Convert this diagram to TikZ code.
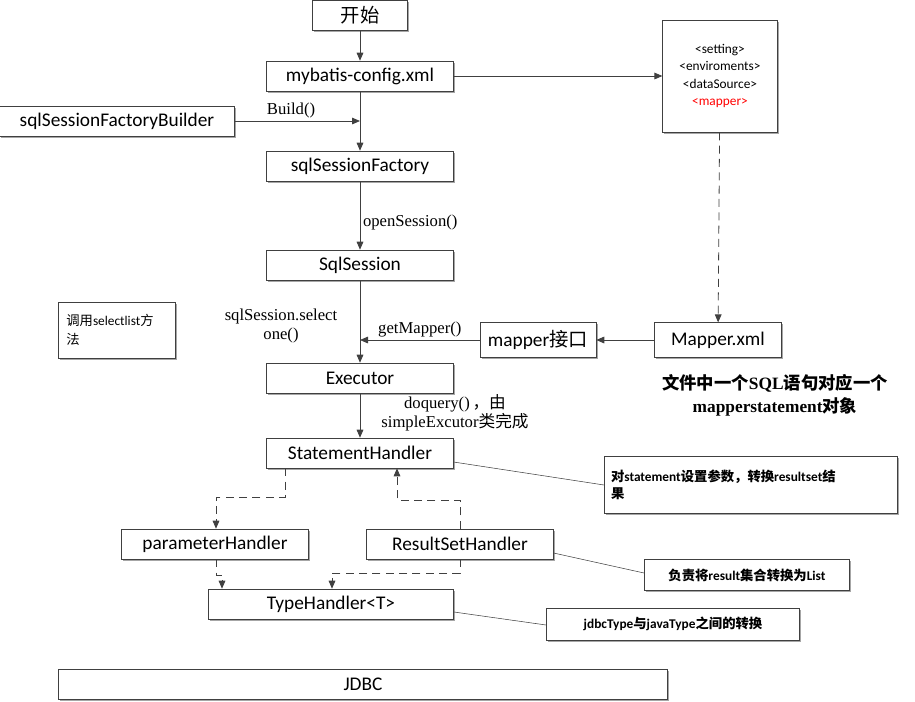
\documentclass[tikz,border=0pt]{standalone}
\usepackage{fontspec}
\setmainfont{Carlito}
\newfontfamily\serif{Liberation Serif}
\newfontfamily\cjk{Noto Sans CJK SC}
\usetikzlibrary{arrows.meta,shadows}
\begin{document}
\begin{tikzpicture}[x=0.75pt,y=-0.75pt,
  box/.style={draw=black!75,fill=white,minimum height=22.5pt,inner sep=2pt,font=\fontsize{14.5}{16}\selectfont,
    drop shadow={shadow xshift=1.2pt,shadow yshift=-1.2pt,fill=black!35,opacity=1}},
  note/.style={draw=black!75,fill=white,align=left,inner sep=4pt,font=\fontsize{10}{13}\selectfont\bfseries,
    drop shadow={shadow xshift=1.2pt,shadow yshift=-1.2pt,fill=black!35,opacity=1}},
  lbl/.style={font=\serif\fontsize{12.5}{14}\selectfont,align=center,inner sep=1pt},
  arr/.style={-{Triangle[length=6pt,width=5pt]},draw=black!75,semithick},
  dsh/.style={arr,dash pattern=on 6pt off 4pt},
  ln/.style={draw=black!75}]
\useasboundingbox (0,0) rectangle (915,701);
\node[box,minimum width=71.25pt] (start) at (360,15) {\cjk 开始};
\node[box,minimum width=140pt] (conf) at (360,76) {mybatis-config.xml};
\node[box,minimum width=176pt] (bld) at (117,121) {sqlSessionFactoryBuilder};
\node[box,minimum width=140pt] (fac) at (360,166) {sqlSessionFactory};
\node[box,minimum width=140pt] (ses) at (360,265) {SqlSession};
\node[box,minimum width=140pt] (exe) at (360,378) {Executor};
\node[box,minimum width=87pt,minimum height=26pt] (mif) at (538,340) {mapper{\cjk 接口}};
\node[box,minimum width=95pt,minimum height=26pt] (mxml) at (718,340) {Mapper.xml};
\node[box,minimum width=86pt,minimum height=84pt,font=\fontsize{10}{13}\selectfont,align=center] (set) at (720,76)
  {<setting>\\<enviroments>\\<dataSource>\\\textcolor{red}{<mapper>}};
\node[box,minimum width=88pt,minimum height=42pt,font=\fontsize{10}{14}\selectfont,align=left,text width=76pt] (sel) at (117,330)
  {{\cjk 调用}selectlist{\cjk 方}\\{\cjk 法}};
\node[box,minimum width=140pt] (sth) at (360,453) {StatementHandler};
\node[box,minimum width=140pt] (par) at (215,544) {parameterHandler};
\node[box,minimum width=140pt] (rsh) at (460,544) {ResultSetHandler};
\node[box,minimum width=184pt] (typ) at (331,604) {TypeHandler<T>};
\node[box,minimum width=457pt] (jdbc) at (363,684) {JDBC};
\node[note,minimum width=220pt,minimum height=43pt,text width=210pt] (n1) at (751,485)
  {{\cjk 对}statement{\cjk 设置参数，转换}resultset{\cjk 结}\\{\cjk 果}};
\node[note,minimum width=154pt,minimum height=23pt] (n2) at (747,575) {{\cjk 负责将}result{\cjk 集合转换为}List};
\node[note,minimum width=190pt,minimum height=24pt] (n3) at (673,624) {jdbcType{\cjk 与}javaType{\cjk 之间的转换}};
\node[lbl,font=\serif\fontsize{13}{17}\selectfont\bfseries] (ann) at (775,395) {{\cjk\bfseries 文件中一个}SQL{\cjk\bfseries 语句对应一个}\\mapperstatement{\cjk\bfseries 对象}};
% edges
\draw[arr] (start) -- (conf);
\draw[arr] (conf) -- (fac);
\coordinate (bj) at (360,121);
\draw[arr] (bld) -- (bj) node[lbl,pos=0.45,above=1pt] (bl) {Build()};
\draw[arr] (fac) -- (ses) node[lbl,pos=0.6,right=1pt] (os) {openSession()};
\draw[arr] (ses) -- (exe);
\node[lbl] (sso) at (281,326) {sqlSession.select\\one()};
\draw[arr] (conf) -- (set);
\draw[dsh] (set) -- (mxml);
\draw[arr] (mxml) -- (mif);
\coordinate (mj) at (360,340);
\draw[arr] (mif) -- (mj) node[lbl,midway,above=1pt] (gm) {getMapper()};
\draw[arr] (exe) -- (sth);
\node[lbl] (dq) at (455,413) {doquery()\,{\cjk ，由}\\simpleExcutor{\cjk 类完成}};
\draw[dsh] (sth.south -| 285,0) |- (216,497) -- (par.north -| 216,0);
\draw[dsh] (rsh.north -| 460,0) |- (397,500) -- (sth.south -| 397,0);
\draw[dsh] (par.south -| 216,0) |- (222,575) -- (typ.north -| 222,0);
\draw[dsh] (rsh.south -| 460,0) |- (332,573) -- (typ.north -| 332,0);
\draw[ln] (sth.east |- 0,462) -- (n1.west |- 0,485);
\draw[ln] (rsh.east |- 0,553) -- (n2.west |- 0,573);
\draw[ln] (typ.east |- 0,612) -- (n3.west |- 0,625);
\end{tikzpicture}
\end{document}
